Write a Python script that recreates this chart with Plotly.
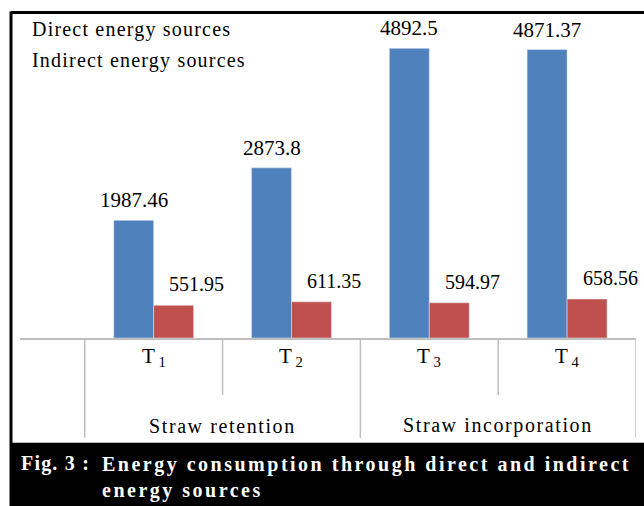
import plotly.graph_objects as go

# ---- data ----
treatments = ["T<sub> 1</sub>", "T<sub> 2</sub>", "T<sub> 3</sub>", "T<sub> 4</sub>"]
groups = ["Straw retention", "Straw incorporation"]
direct = [1987.46, 2873.8, 4892.5, 4871.37]
indirect = [551.95, 611.35, 594.97, 658.56]
direct_labels = ["1987.46", "2873.8", "4892.5", "4871.37"]
indirect_labels = ["551.95", "611.35", "594.97", "658.56"]
series_names = ["Direct energy sources", "Indirect energy sources"]
caption_head = "Fig. 3 :"
caption_body = "Energy consumption through direct and indirect<br>energy sources"

W, H = 644, 506
L, R, T, B = 20, 8, 41.6, 168
PW, PH = W - L - R, H - T - B
BASE = H - B

def px(x):
    return (x - L) / PW

def py(y):
    return (BASE - y) / PH

def spaced(s, sp):
    return "<span style='letter-spacing:%spx'>%s</span>" % (sp, s)

FONT = "Liberation Serif, Times New Roman, serif"
BLUE = "#4F81BD"
RED = "#C0504D"

xs = list(range(len(treatments)))
fig = go.Figure()
fig.add_bar(x=xs, y=direct, name=series_names[0], marker_color=BLUE, showlegend=False)
fig.add_bar(x=xs, y=indirect, name=series_names[1], marker_color=RED, showlegend=False)

ann = []
half = 0.145
for i in xs:
    ann.append(dict(x=i - half, y=direct[i], xref="x", yref="y", text=direct_labels[i],
                    showarrow=False, yanchor="middle", yshift=20,
                    font=dict(family=FONT, size=21, color="black")))
    ann.append(dict(x=i + half, y=indirect[i], xref="x", yref="y", text=indirect_labels[i],
                    showarrow=False, yanchor="middle", yshift=21, xshift=23,
                    font=dict(family=FONT, size=20, color="black")))
    ann.append(dict(x=i, y=py(357), xref="x", yref="paper", text=treatments[i],
                    showarrow=False, yanchor="middle",
                    font=dict(family=FONT, size=21, color="black")))
for g, name in enumerate(groups):
    ann.append(dict(x=0.5 + 2 * g, y=py(426), xref="x", yref="paper", text=spaced(name, 1.6),
                    showarrow=False, yanchor="middle",
                    font=dict(family=FONT, size=20, color="black")))

# legend-like text (no swatches)
ann.append(dict(x=px(30), y=py(29), xref="paper", yref="paper", text=spaced(series_names[0], 1.2),
                showarrow=False, xanchor="left", yanchor="middle",
                font=dict(family=FONT, size=20, color="black")))
ann.append(dict(x=px(30), y=py(60), xref="paper", yref="paper", text=spaced(series_names[1], 1.2),
                showarrow=False, xanchor="left", yanchor="middle",
                font=dict(family=FONT, size=20, color="black")))

# caption
ann.append(dict(x=px(19), y=py(464), xref="paper", yref="paper",
                text="<b>" + spaced(caption_head, 1.2) + "</b>", showarrow=False,
                xanchor="left", yanchor="middle",
                font=dict(family=FONT, size=20, color="white")))
ann.append(dict(x=px(100), y=py(451), xref="paper", yref="paper",
                text="<b>" + spaced(caption_body, 2.5) + "</b>",
                showarrow=False, xanchor="left", yanchor="top", align="left",
                font=dict(family=FONT, size=20, color="white")))

shapes = []
GRAY = "#BFBFBF"
# category separators
for k, bottom in [(-0.5, 438), (0.5, 395), (1.5, 438), (2.5, 395), (3.5, 438)]:
    shapes.append(dict(type="line", xref="x", yref="paper", x0=k, x1=k,
                       y0=0, y1=py(bottom), line=dict(color=GRAY, width=1.5)))
# caption bar
shapes.append(dict(type="rect", xref="paper", yref="paper", x0=px(10), x1=px(650),
                   y0=py(443), y1=py(510), fillcolor="black", line=dict(width=0), layer="above"))
# frame
shapes.append(dict(type="line", xref="paper", yref="paper", x0=px(11), x1=px(650),
                   y0=py(12), y1=py(12), line=dict(color="black", width=3)))
shapes.append(dict(type="line", xref="paper", yref="paper", x0=px(11), x1=px(11),
                   y0=py(11), y1=py(510), line=dict(color="black", width=3)))

fig.update_layout(
    width=W, height=H,
    margin=dict(l=L, r=R, t=T, b=B, pad=0),
    paper_bgcolor="white", plot_bgcolor="white",
    barmode="group", bargap=0.42, bargroupgap=0,
    xaxis=dict(range=[-0.97, 3.5], showticklabels=False, showgrid=False, zeroline=False,
               showline=True, linecolor=GRAY, linewidth=1.5, ticks=""),
    yaxis=dict(range=[0, 5000], visible=False),
    annotations=ann, shapes=shapes,
)

fig.write_html("out.html", config={"displayModeBar": False},
               post_script="document.body.style.margin='0';document.body.style.overflow='hidden';")
